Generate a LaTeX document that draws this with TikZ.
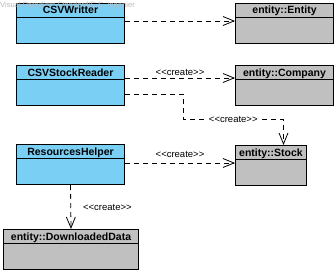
\documentclass[tikz,border=0pt]{standalone}
\usepackage{fontspec}
\setmainfont{Liberation Sans}
\usetikzlibrary{arrows.meta}
\definecolor{clsblue}{RGB}{122,207,245}
\definecolor{clsgray}{RGB}{192,192,192}
\newcommand{\create}{<\kern0pt<create>\kern0pt>}
\tikzset{
  cls/.style={draw, line width=1pt, anchor=north west, inner sep=0pt, minimum height=40pt,
    path picture={\draw[line width=1pt] ([yshift=-14pt]path picture bounding box.north west) -- ([yshift=-14pt]path picture bounding box.north east);}},
  clsname/.style={font=\bfseries\fontsize{10.5}{12}\selectfont, anchor=base, inner sep=0pt},
  dep/.style={line width=0.8pt, dash pattern=on 5pt off 4pt, -{Straight Barb[length=11pt,width=9pt]}},
  stereo/.style={font=\fontsize{9.5}{11}\selectfont, inner sep=1pt},
}
\begin{document}
\begin{tikzpicture}[x=1pt, y=-1pt]
\useasboundingbox (0,0) rectangle (336,273);

% classes of the reader package
\node[cls, fill=clsblue, minimum width=108pt] (writer) at (16,2.5) {};
\node[cls, fill=clsblue, minimum width=108pt] (reader) at (16,65) {};
\node[cls, fill=clsblue, minimum width=108pt] (helper) at (16,144) {};

% entity classes
\node[cls, fill=clsgray, minimum width=98pt] (entity) at (235,2.5) {};
\node[cls, fill=clsgray, minimum width=98pt] (company) at (235,65) {};
\node[cls, fill=clsgray, minimum width=71pt] (stock) at (235,145) {};
\node[cls, fill=clsgray, minimum width=135pt] (data) at (3,229) {};

\node[font=\fontsize{7.6}{9}\selectfont, text=gray!55, anchor=west, inner sep=0pt] (mark) at (0,6) {Visual Paradigm Standard(E.S. Ingenier};

\node[clsname] (writername) at ([yshift=-11pt]writer.north) {CSVWritter};
\node[clsname] (readername) at ([yshift=-11pt]reader.north) {CSVStockReader};
\node[clsname] (helpername) at ([yshift=-11pt]helper.north) {ResourcesHelper};
\node[clsname] (entityname) at ([yshift=-11pt]entity.north) {entity::Entity};
\node[clsname] (companyname) at ([yshift=-11pt]company.north) {entity::Company};
\node[clsname] (stockname) at ([yshift=-11pt]stock.north) {entity::Stock};
\node[clsname] (dataname) at ([yshift=-11pt]data.north) {entity::DownloadedData};

% dependencies
\draw[dep] ([yshift=-18.5pt]writer.north east) -- ([yshift=-18.5pt]entity.north west);
\draw[dep] ([yshift=-13pt]reader.north east) -- node[stereo, above=1pt] (c1) {\create} ([yshift=-13pt]company.north west);
\draw[dep] ([yshift=-29pt]reader.north east) -| (183,119) -| node[pos=0.25, stereo, fill=white] (c2) {\create} ([xshift=12.5pt]stock.north);
\draw[dep] ([yshift=-19pt]helper.north east) -- node[stereo, above=4pt] (c3) {\create} ([yshift=-18pt]stock.north west);
\draw[dep] (helper.south) -- node[stereo, right=11pt] (c4) {\create} (data.north);
\end{tikzpicture}
\end{document}
